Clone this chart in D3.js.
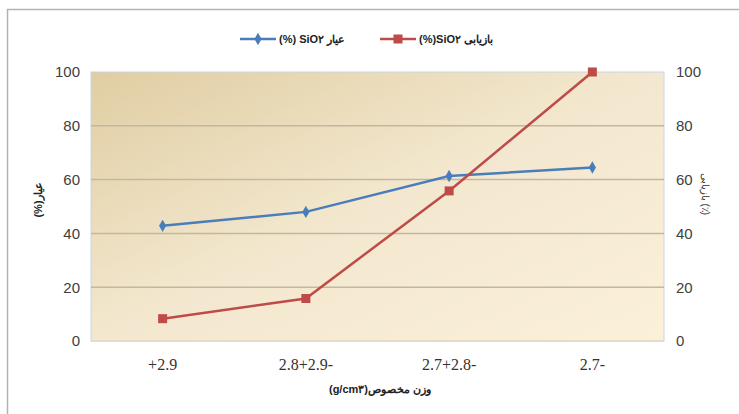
<!DOCTYPE html>
<html><head><meta charset="utf-8">
<script src="https://cdn.jsdelivr.net/npm/d3@7"></script>
<style>body{margin:0;background:#fff}svg{display:block}
.xt text{font-family:"Liberation Serif","Times New Roman","DejaVu Serif",serif !important;font-size:16px !important}</style>
</head><body>
<svg id="c" width="739" height="414"></svg>
<script>
const categories = ["+2.9", "2.8+2.9-", "2.7+2.8-", "2.7-"];
const gradeSiO2 = [42.8, 48.0, 61.3, 64.5];
const recoverySiO2 = [8.3, 15.8, 55.8, 100];
const yTicks = [0, 20, 40, 60, 80, 100];
const legendLabels = ["(%) SiO\u06F2 \u0639\u06CC\u0627\u0631", "(%)SiO\u06F2 \u0628\u0627\u0632\u06CC\u0627\u0628\u06CC"];
const xTitle = "(g/cm\u06F3)\u0648\u0632\u0646 \u0645\u062E\u0635\u0648\u0635";
const yLeftTitle = "(%)\u0639\u06CC\u0627\u0631";
const yRightTitle = "\u0628\u0627\u0632\u06CC\u0627\u0628\u06CC (\u066A)";

const svg = d3.select("#c");
const L = 91, R = 664, T = 72, B = 341;
const blue = "#4a7ebb", red = "#be4b48";
const sans = "Arial, 'Liberation Sans', sans-serif";

svg.append("rect").attr("x", 7.5).attr("y", 9.5).attr("width", 760).attr("height", 420)
  .attr("fill", "#fff").attr("stroke", "#b3b3b3").attr("stroke-width", 1.5);

const defs = svg.append("defs");
const g = defs.append("linearGradient").attr("id", "bg").attr("x1", "0").attr("y1", "0").attr("x2", "1").attr("y2", "1");
g.append("stop").attr("offset", "0").attr("stop-color", "#e0cda2");
g.append("stop").attr("offset", "0.5").attr("stop-color", "#f3e8cf");
g.append("stop").attr("offset", "1").attr("stop-color", "#fbf0d8");

const x = d3.scaleBand().domain(categories).range([L, R]);
const y = d3.scaleLinear().domain([0, 100]).range([B, T]);
const y2 = d3.scaleLinear().domain([0, 100]).range([B, T]);

svg.append("rect").attr("x", L).attr("y", T).attr("width", R - L).attr("height", B - T)
  .attr("fill", "url(#bg)").attr("stroke", "#c9d6e3").attr("stroke-width", 1);

svg.append("g").selectAll("line").data(yTicks.filter(d => d > 0 && d < 100)).join("line")
  .attr("x1", L).attr("x2", R).attr("y1", d => y(d)).attr("y2", d => y(d))
  .attr("stroke", "#c2b8a0").attr("stroke-width", 1.5);
svg.append("line").attr("x1", L).attr("x2", R).attr("y1", B).attr("y2", B)
  .attr("stroke", "#e6dcc6").attr("stroke-width", 2);

const ax = d3.axisLeft(y).tickValues(yTicks).tickSize(0).tickPadding(11);
const gl = svg.append("g").attr("transform", `translate(${L},0)`).call(ax);
gl.attr("font-family", sans).attr("font-size", 15);
gl.select(".domain").remove();
gl.selectAll("text").attr("fill", "#404040");

const ar = d3.axisRight(y2).tickValues(yTicks).tickSize(0).tickPadding(12);
const gr = svg.append("g").attr("transform", `translate(${R},0)`).call(ar);
gr.attr("font-family", sans).attr("font-size", 15);
gr.select(".domain").remove();
gr.selectAll("text").attr("fill", "#404040");

const ab = d3.axisBottom(x).tickSize(0).tickPadding(18);
const gb = svg.append("g").attr("class", "xt").attr("transform", `translate(0,${B})`).call(ab);
gb.attr("font-family", "Liberation Serif").attr("font-size", 16);
gb.select(".domain").remove();
gb.selectAll("text").attr("fill", "#333");

svg.append("text").attr("x", 380).attr("y", 393).attr("text-anchor", "middle")
  .attr("font-family", sans).attr("font-weight", "bold").attr("font-size", 11).attr("fill", "#222")
  .text(xTitle);
svg.append("text").attr("transform", "translate(42,200) rotate(-90)").attr("text-anchor", "middle")
  .attr("font-family", sans).attr("font-weight", "bold").attr("font-size", 11).attr("fill", "#222")
  .text(yLeftTitle);
svg.append("text").attr("transform", "translate(702,194) rotate(90)").attr("text-anchor", "middle")
  .attr("font-family", sans).attr("font-size", 10).attr("fill", "#333")
  .text(yRightTitle);

const cx = d => x(d) + x.bandwidth() / 2;
const line1 = d3.line().x((d, i) => cx(categories[i])).y(d => y(d));
const line2 = d3.line().x((d, i) => cx(categories[i])).y(d => y2(d));

svg.append("path").datum(gradeSiO2).attr("d", line1).attr("fill", "none").attr("stroke", blue).attr("stroke-width", 2.5);
svg.append("path").datum(recoverySiO2).attr("d", line2).attr("fill", "none").attr("stroke", red).attr("stroke-width", 2.5);

const diamond = d3.symbol().type(d3.symbolDiamond).size(45);
svg.append("g").selectAll("path").data(gradeSiO2).join("path")
  .attr("d", diamond).attr("transform", (d, i) => `translate(${cx(categories[i])},${y(d)})`).attr("fill", blue);
svg.append("g").selectAll("rect").data(recoverySiO2).join("rect")
  .attr("x", (d, i) => cx(categories[i]) - 4.5).attr("y", d => y2(d) - 4.5)
  .attr("width", 9).attr("height", 9).attr("fill", red);

const lg = svg.append("g");
lg.append("line").attr("x1", 240).attr("x2", 276).attr("y1", 39).attr("y2", 39).attr("stroke", blue).attr("stroke-width", 2.5);
lg.append("path").attr("d", diamond).attr("transform", "translate(258,39)").attr("fill", blue);
lg.append("text").attr("x", 279).attr("y", 43).attr("font-family", sans)
  .attr("font-weight", "bold").attr("font-size", 11).attr("fill", "#222").text(legendLabels[0]);
lg.append("line").attr("x1", 380).attr("x2", 416).attr("y1", 39).attr("y2", 39).attr("stroke", red).attr("stroke-width", 2.5);
lg.append("rect").attr("x", 393.5).attr("y", 34.5).attr("width", 9).attr("height", 9).attr("fill", red);
lg.append("text").attr("x", 419).attr("y", 43).attr("font-family", sans)
  .attr("font-weight", "bold").attr("font-size", 11).attr("fill", "#222").text(legendLabels[1]);
</script>
</body></html>
